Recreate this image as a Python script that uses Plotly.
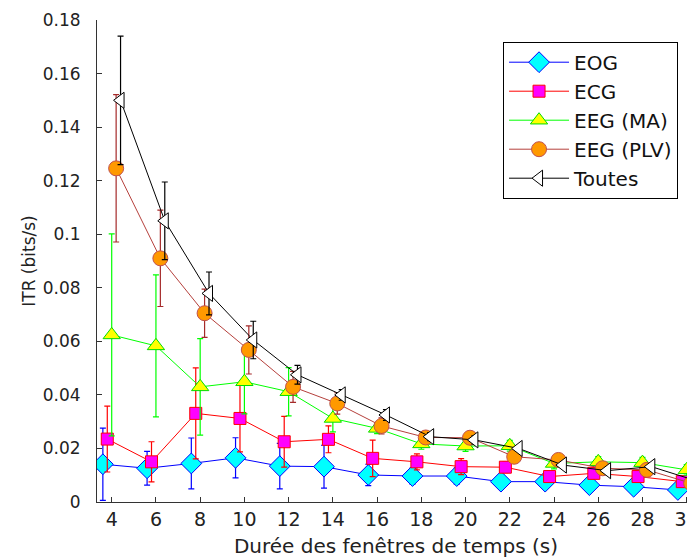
import plotly.graph_objects as go

durations = [4, 6, 8, 10, 12, 14, 16, 18, 20, 22, 24, 26, 28, 30]

eog = [0.0141, 0.0126, 0.0144, 0.0165, 0.0134, 0.0132, 0.0101, 0.0097, 0.0097, 0.0076, 0.0076, 0.0063, 0.0057, 0.0045]
eog_err = [0.0135, 0.0063, 0.0095, 0.0075, 0.0085, 0.008, 0.004, 0.003, 0.003, 0.002, 0.002, 0.002, 0.002, 0.002]
ecg = [0.0235, 0.015, 0.0331, 0.0312, 0.0225, 0.0234, 0.0163, 0.015, 0.0132, 0.013, 0.0095, 0.0107, 0.0095, 0.0076]
ecg_err = [0.0123, 0.0075, 0.017, 0.0125, 0.0095, 0.005, 0.0068, 0.003, 0.003, 0.002, 0.002, 0.002, 0.002, 0.002]
eeg_ma = [0.0624, 0.0583, 0.043, 0.0449, 0.0412, 0.0312, 0.0275, 0.0217, 0.0209, 0.021, 0.0144, 0.015, 0.0147, 0.012]
eeg_ma_err = [0.0377, 0.0265, 0.018, 0.012, 0.009, 0.005, 0.002, 0.002, 0.002, 0.002, 0.002, 0.002, 0.002, 0.002]
eeg_plv = [0.1246, 0.091, 0.0705, 0.0568, 0.043, 0.0368, 0.0284, 0.0241, 0.024, 0.0169, 0.0157, 0.0126, 0.012, 0.007]
eeg_plv_err = [0.0275, 0.018, 0.009, 0.009, 0.0058, 0.004, 0.003, 0.002, 0.002, 0.002, 0.002, 0.002, 0.002, 0.002]
toutes = [0.150, 0.105, 0.0779, 0.0605, 0.0475, 0.040, 0.0325, 0.0244, 0.0232, 0.020, 0.0138, 0.0117, 0.0132, 0.008]
toutes_err = [0.024, 0.0145, 0.008, 0.007, 0.0035, 0.002, 0.002, 0.0015, 0.0015, 0.001, 0.001, 0.001, 0.001, 0.001]

names = ["EOG", "ECG", "EEG (MA)", "EEG (PLV)", "Toutes"]
values = [eog, ecg, eeg_ma, eeg_plv, toutes]
errors = [eog_err, ecg_err, eeg_ma_err, eeg_plv_err, toutes_err]
x_shift = [-0.4, -0.2, 0.0, 0.2, 0.4]

line_colors = ["#0000FF", "#FF0000", "#00FF00", "#B5403C", "#000000"]
err_colors = ["#0000FF", "#FF0000", "#00FF00", "#A52A2A", "#000000"]
fill_colors = ["#00FFFF", "#FF00FF", "#FFFF00", "#FF9900", "#FFFFFF"]
edge_colors = ["#0000FF", "#FF0000", "#00DD00", "#C0504D", "#000000"]
symbols = ["diamond", "square", "triangle-up", "circle", "triangle-left"]
sizes = [16, 12, 15, 15, 14]

fig = go.Figure()
for i in range(len(names)):
    fig.add_trace(go.Scatter(
        x=[d + x_shift[i] for d in durations],
        y=values[i],
        name=names[i],
        mode="lines+markers",
        line=dict(color=line_colors[i], width=1),
        marker=dict(symbol=symbols[i], size=sizes[i], color=fill_colors[i],
                    line=dict(color=edge_colors[i], width=1)),
        error_y=dict(type="data", array=errors[i], visible=True,
                     color=err_colors[i], thickness=1.2, width=3),
    ))

# page body has an 8px default margin, so the figure is offset by (8, 8)
fig.update_layout(
    width=695, height=559,
    margin=dict(l=89, r=8, t=12, b=65, autoexpand=False),
    paper_bgcolor="white", plot_bgcolor="white",
    font=dict(family="DejaVu Sans, Liberation Sans, sans-serif", size=17, color="#222222"),
    showlegend=True,
    legend=dict(x=0.679, y=0.955, xanchor="left", yanchor="top",
                bgcolor="white", bordercolor="#000000", borderwidth=1,
                font=dict(size=20, color="#111111"), tracegroupgap=0,
                itemwidth=60),
    xaxis=dict(range=[3.335, 30.375], tickmode="array", tickvals=durations,
               ticktext=[str(d) for d in durations],
               ticks="inside", ticklen=5, tickcolor="#333333",
               showline=True, linecolor="#333333", linewidth=1, mirror=False,
               showgrid=False, zeroline=False, automargin=False,
               title=dict(text="Durée des fenêtres de temps (s)", font=dict(size=20), standoff=10),
               tickfont=dict(size=19)),
    yaxis=dict(range=[0, 0.18], tickmode="array",
               tickvals=[0, 0.02, 0.04, 0.06, 0.08, 0.1, 0.12, 0.14, 0.16, 0.18],
               ticktext=["0", "0.02", "0.04", "0.06", "0.08", "0.1", "0.12", "0.14", "0.16", "0.18"],
               ticks="inside", ticklen=5, tickcolor="#333333",
               showline=True, linecolor="#333333", linewidth=1, mirror=False,
               showgrid=False, zeroline=False, automargin=False,
               title=dict(text="ITR (bits/s)", font=dict(size=17), standoff=2),
               tickfont=dict(size=17), ticklabelstandoff=12),
)

fig.write_html("out.html")
